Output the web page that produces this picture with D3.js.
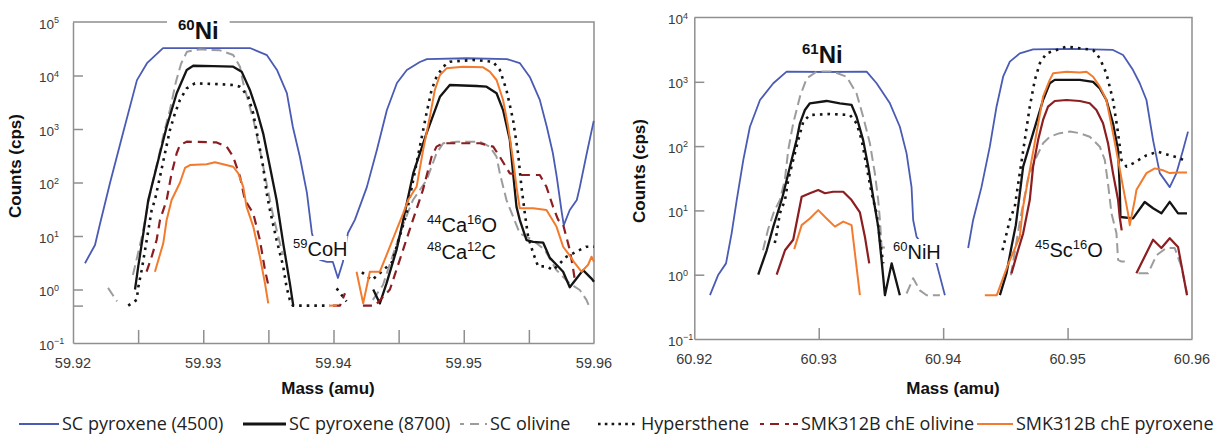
<!DOCTYPE html>
<html>
<head>
<meta charset="utf-8">
<script src="https://cdn.jsdelivr.net/npm/d3@7"></script>
<style>
  html, body { margin: 0; padding: 0; background: #fff; }
  svg { display: block; }
</style>
</head>
<body>
<svg id="chart" width="1214" height="434"></svg>
<script>
// ---- Series (legend order) ----
const seriesNames = ["SC pyroxene (4500)", "SC pyroxene (8700)", "SC olivine",
                     "Hypersthene", "SMK312B chE olivine", "SMK312B chE pyroxene"];

// ---- Axis ticks ----
const massLabels60 = [59.92, 59.93, 59.94, 59.95, 59.96];
const massTicks60  = [59.925, 59.93, 59.935, 59.94, 59.945, 59.95, 59.955];
const massLabels61 = [60.92, 60.93, 60.94, 60.95, 60.96];
const massTicks61  = [60.93, 60.94, 60.95];
const countExp60   = [5, 4, 3, 2, 1, 0, -1];
const countTicks60 = [1e4, 1e3, 1e2, 1e1, 1, 0.5];
const countExp61   = [4, 3, 2, 1, 0, -1];
const countTicks61 = [1e3, 1e2, 1e1, 1];

// ---- 60Ni scan: each series = list of continuous segments of [mass (amu), counts (cps)] ----
const ni60_sc4500 = [
  [[59.92092,3.1],[59.92169,6.8],[59.92207,16.8],[59.92284,98],[59.92384,840],[59.92491,8200],[59.92568,17000],[59.92691,32600],[59.92975,32600],[59.93358,32600],[59.93489,24000],[59.93566,12700],[59.93642,4700],[59.93688,1090],[59.93742,300],[59.93796,64],[59.93834,11.4],[59.93865,6],[59.93896,3.56],[59.93949,3.27],[59.93995,3.27],[59.94034,1.64],[59.94072,3.27],[59.94111,11.4],[59.94164,20],[59.94256,82],[59.94333,405],[59.9441,2260],[59.94487,7240],[59.94563,12700],[59.94663,17900],[59.94717,20300],[59.95024,21000],[59.95331,20300],[59.9543,17100],[59.95507,9400],[59.95584,3500],[59.95638,1090],[59.95684,356],[59.95714,127],[59.95753,27],[59.95768,16],[59.95814,30.6],[59.95868,47],[59.95891,82],[59.95945,356],[59.95998,1420]]
];
const ni60_sc8700 = [
  [[59.92476,1.0],[59.92501,2.7],[59.9254,11.2],[59.92578,47],[59.92642,197],[59.92719,1100],[59.92796,4650],[59.92873,12700],[59.92923,15200],[59.93074,15000],[59.9323,14600],[59.93295,11800],[59.93358,5360],[59.9341,2260],[59.9346,830],[59.93512,197],[59.93563,47],[59.93614,7.3],[59.93665,1.3],[59.93691,0.5]],
  [[59.94305,1.0],[59.94356,0.55],[59.94407,1.3],[59.94484,5.5],[59.94535,20],[59.94612,148],[59.94714,830],[59.94817,4000],[59.94893,6640],[59.95098,6370],[59.95175,6180],[59.95252,4650],[59.95302,2260],[59.95354,620],[59.95379,148],[59.95405,35],[59.9543,20],[59.95482,8.4],[59.95533,7.8],[59.9561,7.5],[59.95661,3.9],[59.95712,2.9],[59.95763,2.15],[59.95814,1.1],[59.95866,1.6],[59.95916,2.3],[59.95981,1.6],[59.96,1.4]]
];
const ni60_olivine = [
  [[59.92269,1.07],[59.92338,0.6]],
  [[59.9246,1.87],[59.92491,3.9],[59.9253,10],[59.92568,30.6],[59.92606,90],[59.92652,263],[59.92698,840],[59.92744,2260],[59.9279,7570],[59.92829,16400],[59.92875,27900],[59.92975,30900],[59.93128,29500],[59.9323,24200],[59.93282,14600],[59.93307,7140],[59.93343,3480],[59.93389,1350],[59.93435,405],[59.93481,111],[59.93527,30.6],[59.93573,10.4],[59.93612,4.4]],
  [[59.94302,0.64],[59.94379,1.2],[59.94456,4.4],[59.94533,16],[59.9461,47],[59.94715,111],[59.94791,352],[59.94842,541],[59.94945,580],[59.95124,580],[59.952,468],[59.95252,302],[59.95277,148],[59.95328,47],[59.95379,23],[59.9543,11.2],[59.9553,8.4],[59.95622,5.5],[59.95712,2.3],[59.95814,1.3],[59.95891,0.98],[59.95942,0.64],[59.9596,0.5]]
];
const ni60_hypersthene = [
  [[59.92424,0.5],[59.92489,0.64],[59.92501,1.1],[59.92527,2.3],[59.92566,8.4],[59.92604,30.6],[59.92629,47],[59.92668,129],[59.92706,352],[59.92744,955],[59.92783,1960],[59.92821,3480],[59.92873,5750],[59.92936,7140],[59.9309,6940],[59.9323,6640],[59.93282,6180],[59.93345,4020],[59.93384,1960],[59.93422,622],[59.9346,197],[59.93487,63],[59.93512,30.6],[59.93563,8.4],[59.93614,2.7],[59.9364,1.1],[59.93665,0.64],[59.93688,0.5],[59.93972,0.5]],
  [[59.94024,1.05],[59.941,0.6]],
  [[59.94218,2.1],[59.94295,1.5],[59.94448,3.2],[59.94509,10],[59.94561,26.5],[59.94612,111],[59.94663,468],[59.94714,1960],[59.94753,5360],[59.94791,9500],[59.94842,14600],[59.94893,18100],[59.95072,19500],[59.95225,18100],[59.95277,12700],[59.95328,5360],[59.95379,1470],[59.95417,352],[59.95443,83],[59.95469,26.5],[59.95494,9.8],[59.95533,4.8],[59.95571,2.7],[59.95635,2.7],[59.95686,2.3],[59.95789,4.1],[59.95891,5.5],[59.95942,6.3],[59.96,6.3]]
];
const ni60_smkOlivine = [
  [[59.92565,2.15],[59.92604,4.1],[59.92642,8.4],[59.92668,20],[59.92719,47],[59.92757,148],[59.92796,352],[59.92821,502],[59.92873,580],[59.93103,560],[59.9318,468],[59.9323,302],[59.93282,129],[59.9332,47],[59.93384,26.5],[59.93435,8.4],[59.93474,2.3],[59.93499,1.23]],
  [[59.93995,0.5],[59.9405,0.5],[59.94088,0.85]],
  [[59.94226,0.5],[59.94318,0.5],[59.94433,1.0],[59.94509,3.6],[59.946,17],[59.94686,72],[59.94753,302],[59.94791,468],[59.94842,541],[59.95124,541],[59.95226,468],[59.95277,302],[59.95354,148],[59.9543,138],[59.95584,138],[59.95635,83],[59.95686,35],[59.95725,20],[59.95761,17],[59.95814,5.5],[59.95837,2.7],[59.95853,1.5]]
];
const ni60_smkPyroxene = [
  [[59.92629,2.15],[59.92693,7.3],[59.92719,20],[59.92757,47],[59.92821,99],[59.9286,187],[59.92898,212],[59.93026,220],[59.9309,239],[59.93153,220],[59.9323,197],[59.93269,148],[59.93307,83],[59.93333,35],[59.93384,15],[59.93435,4.1],[59.93474,1.3],[59.93499,0.55]],
  [[59.93972,0.5],[59.94026,0.5]],
  [[59.94177,2.15],[59.94228,0.55],[59.94279,2.15],[59.94356,2.15],[59.94433,6.3],[59.94484,13],[59.94535,26.5],[59.94573,47],[59.94638,83],[59.94688,405],[59.9474,1700],[59.94778,5360],[59.94817,10200],[59.94868,13600],[59.94995,14600],[59.95149,14200],[59.952,11800],[59.95252,8240],[59.95302,3480],[59.95341,1100],[59.95379,263],[59.95405,83],[59.9543,33],[59.95533,33],[59.95635,30.6],[59.95712,15],[59.95763,6.3],[59.95801,4.75],[59.95853,3.1],[59.95904,2.15],[59.95955,2.9],[59.95981,4.1],[59.96,3.3]]
];

// ---- 61Ni scan ----
const ni61_sc4500 = [
  [[60.92126,0.48],[60.92193,1.0],[60.92255,1.5],[60.923,4.4],[60.92341,14.5],[60.92394,61],[60.92447,200],[60.92528,521],[60.92635,949],[60.92742,1440],[60.93063,1420],[60.93385,1440],[60.93465,949],[60.93572,463],[60.93652,200],[60.93706,77],[60.93746,23],[60.93759,7.1],[60.93786,3.9],[60.93861,2.5],[60.93947,1.5],[60.94014,0.48]],
  [[60.94201,2.6],[60.94241,7.1],[60.94308,23],[60.94375,98],[60.94429,410],[60.94482,1200],[60.94536,2060],[60.94616,2770],[60.94723,3200],[60.95042,3240],[60.95365,3130],[60.95446,2610],[60.95526,1520],[60.9558,949],[60.95634,521],[60.95687,124],[60.95741,38],[60.95821,23],[60.95875,38],[60.95928,87],[60.95968,168]]
];
const ni61_sc8700 = [
  [[60.92514,1.0],[60.92582,2.4],[60.92635,5.6],[60.92702,14.5],[60.92715,18],[60.92769,48],[60.92822,124],[60.92849,226],[60.92889,364],[60.92929,463],[60.93063,503],[60.9317,463],[60.93264,436],[60.93304,286],[60.93357,124],[60.93398,48],[60.93438,16],[60.93478,5.6],[60.93505,1.7],[60.93532,0.48],[60.93586,1.5],[60.93652,0.48]],
  [[60.94456,0.48],[60.94509,1.05],[60.94552,2.9],[60.94584,5.9],[60.94643,48],[60.94723,159],[60.94803,521],[60.94857,949],[60.94897,1070],[60.95098,1070],[60.95205,1000],[60.95259,792],[60.95312,521],[60.95365,226],[60.95406,87],[60.95419,23],[60.95425,7.9],[60.95526,7.5],[60.9562,13.5],[60.95687,10.8],[60.95754,9],[60.95821,13.6],[60.95888,9],[60.9596,9]]
];
const ni61_olivine = [
  [[60.92552,2.4],[60.92592,5.0],[60.9264,9.5],[60.92688,14.5],[60.92728,30],[60.92755,87],[60.92795,226],[60.92849,586],[60.92903,1130],[60.92983,1440],[60.93116,1440],[60.93224,1200],[60.93304,660],[60.93357,286],[60.93411,111],[60.93451,38],[60.93478,14.5],[60.93492,7.1],[60.93505,2.7],[60.93545,2.6]],
  [[60.93706,0.51],[60.93759,0.88],[60.93813,0.57],[60.93867,0.48],[60.93974,0.48]],
  [[60.94544,0.98],[60.94616,6.6],[60.9468,30],[60.94696,38],[60.9475,68],[60.94803,111],[60.94857,140],[60.94937,159],[60.95018,168],[60.95098,159],[60.95178,140],[60.95259,98],[60.95299,61],[60.95325,26],[60.95353,9],[60.95393,4.4],[60.95406,1.7],[60.95433,1.6],[60.9546,1.6]],
  [[60.9557,1.05],[60.95647,1.05],[60.95714,2.0],[60.95794,2.6],[60.95861,2.6],[60.95915,1.33],[60.9596,0.51]]
];
const ni61_hypersthene = [
  [[60.92647,3.1],[60.92662,4.4],[60.92688,9],[60.92729,14.5],[60.92755,30],[60.92795,61],[60.92835,124],[60.92876,240],[60.92929,305],[60.9309,315],[60.93251,305],[60.93304,226],[60.93345,124],[60.93385,48],[60.93425,18.5],[60.93465,9],[60.93492,3.5],[60.93518,1.5]],
  [[60.94477,2.4],[60.94536,7.1],[60.94576,11.5],[60.94616,38],[60.94656,124],[60.94696,410],[60.94737,1070],[60.94777,1940],[60.9483,2770],[60.94991,3520],[60.95098,3330],[60.95205,3130],[60.95259,2320],[60.95312,1350],[60.95365,521],[60.95406,159],[60.95433,61],[60.95473,48],[60.95526,54],[60.95634,72],[60.95727,82],[60.95821,72],[60.95901,65],[60.95928,61]]
];
const ni61_smkOlivine = [
  [[60.92662,1.0],[60.92729,2.4],[60.92795,3.5],[60.92863,16.3],[60.92929,18.5],[60.92996,20.7],[60.9305,18.5],[60.93116,19.5],[60.93197,19.5],[60.93264,14.5],[60.93331,9.3],[60.93371,3.9],[60.93406,1.5]],
  [[60.94549,1.05],[60.94602,2.4],[60.94643,4.4],[60.94696,14.5],[60.94723,48],[60.94763,124],[60.94803,255],[60.94843,410],[60.94897,503],[60.94991,521],[60.95098,503],[60.95178,463],[60.95232,364],[60.95285,226],[60.95325,111],[60.95365,38],[60.95406,14.5],[60.95419,7.9],[60.95435,4.9]],
  [[60.95553,1.05],[60.95687,3.5],[60.95754,2.6],[60.95821,3.7],[60.95888,2.7],[60.9596,0.48]]
];
const ni61_smkPyroxene = [
  [[60.92803,2.5],[60.92863,5.9],[60.92929,7.5],[60.92996,10.1],[60.93063,7.5],[60.9313,5.6],[60.93197,6.7],[60.93264,5.9],[60.93331,0.48]],
  [[60.94335,0.48],[60.94431,0.48],[60.94519,1.4],[60.94616,3.9],[60.94643,11.5],[60.94696,42],[60.9475,159],[60.94803,586],[60.94857,1070],[60.94884,1355],[60.94991,1436],[60.95098,1390],[60.95152,1436],[60.95205,1200],[60.95259,840],[60.95312,521],[60.95365,159],[60.95406,61],[60.95446,23],[60.95486,9],[60.955,5.9],[60.9554,14.5],[60.95554,21],[60.95634,38],[60.95701,45],[60.95768,42],[60.95821,38],[60.95888,39],[60.9596,39]]
];

// ---- Styling ----
const FONT = "'Liberation Sans', Arial, Helvetica, sans-serif";
const AXIS_GREY = "#8f8f8f";
const styles = [
  { color: "#4a5bb4", width: 1.8, dash: null },
  { color: "#141414", width: 2.3, dash: null },
  { color: "#9c9c9c", width: 2.0, dash: "10,5" },
  { color: "#141414", width: 2.6, dash: "2.6,5" },
  { color: "#8c1d20", width: 2.2, dash: "9,6" },
  { color: "#f27b2d", width: 2.0, dash: null }
];
// drawing order (index into seriesNames): blue, grey, black, dotted, dark red, orange
const drawOrder = [0, 2, 1, 3, 4, 5];

const svg = d3.select("#chart");

// text with superscript parts: parts = [[text, isSup], ...]
function richText(g, x, y, parts, size, supSize, opts = {}) {
  const t = g.append("text")
    .attr("x", x).attr("y", y)
    .attr("font-family", opts.family || FONT)
    .attr("font-size", size)
    .attr("font-weight", opts.weight || "normal")
    .attr("fill", opts.fill || "#111")
    .attr("text-anchor", opts.anchor || "start");
  let raised = false;
  const lift = opts.lift != null ? opts.lift : size * 0.42;
  parts.forEach(([s, sup]) => {
    const ts = t.append("tspan").text(s);
    if (sup) {
      ts.attr("font-size", supSize).attr("dy", raised ? 0 : -lift);
      raised = true;
    } else {
      ts.attr("dy", raised ? lift : 0);
      raised = false;
    }
  });
  return t;
}

// white box behind a text; optional fixed vertical band
function backdrop(g, textSel, padX, band) {
  const b = textSel.node().getBBox();
  const y0 = band ? band[0] : b.y;
  const y1 = band ? band[1] : b.y + b.height;
  g.insert("rect", () => textSel.node())
    .attr("x", b.x - padX).attr("y", y0)
    .attr("width", b.width + 2 * padX).attr("height", y1 - y0)
    .attr("fill", "#fff");
}

function drawPanel(cfg) {
  const x = d3.scaleLinear().domain(cfg.xDomain).range(cfg.xRange);
  const y = d3.scaleLog().domain(cfg.yDomain).range(cfg.yRange);
  const g = svg.append("g");
  const [x0, x1] = cfg.xRange;
  const [yb, yt] = cfg.yRange;

  // frame: top and right edges
  g.append("path")
    .attr("d", `M${x0},${yt}H${x1}V${yb}`)
    .attr("fill", "none").attr("stroke", AXIS_GREY).attr("stroke-width", 1.5);

  // bottom axis with inward ticks
  const xAxis = g.append("g").attr("transform", `translate(0,${yb})`)
    .call(d3.axisBottom(x).tickValues(cfg.xTicks).tickSizeInner(-cfg.xTickLen).tickSizeOuter(0).tickFormat(""));
  // left axis with inward ticks
  const yAxis = g.append("g").attr("transform", `translate(${x0},0)`)
    .call(d3.axisLeft(y).tickValues(cfg.yTicks).tickSizeInner(-10).tickSizeOuter(0).tickFormat(""));
  [xAxis, yAxis].forEach(a => {
    a.select(".domain").attr("stroke", AXIS_GREY).attr("stroke-width", 1.5);
    a.selectAll(".tick line").attr("stroke", AXIS_GREY).attr("stroke-width", 1.5);
  });

  // x tick labels
  g.selectAll(".xlab").data(cfg.xLabels).join("text")
    .attr("x", d => x(d)).attr("y", yb + 25)
    .attr("text-anchor", "middle")
    .attr("font-family", FONT).attr("font-size", 14.5).attr("fill", "#3a3a3a")
    .text(d => d.toFixed(2));

  // y tick labels: powers of ten
  cfg.yExp.forEach(e => {
    richText(g, cfg.yLabelX, y(Math.pow(10, e)) + 6.5,
      [["10", false], [String(e).replace("-", "\u2212"), true]], 13.5, 9,
      { fill: "#3a3a3a", lift: 5.5 });
  });

  // axis titles
  g.append("text")
    .attr("transform", `translate(${cfg.yTitle[0]},${cfg.yTitle[1]}) rotate(-90)`)
    .attr("text-anchor", "middle").attr("font-family", FONT)
    .attr("font-size", 17).attr("font-weight", "bold").attr("fill", "#111")
    .text("Counts (cps)");
  g.append("text")
    .attr("x", cfg.xTitle[0]).attr("y", cfg.xTitle[1])
    .attr("text-anchor", "middle").attr("font-family", FONT)
    .attr("font-size", 17).attr("font-weight", "bold").attr("fill", "#111")
    .text("Mass (amu)");

  // spectra
  const line = d3.line().x(d => x(d[0])).y(d => y(d[1]));
  drawOrder.forEach(i => {
    const st = Object.assign({}, styles[i], (cfg.styleOverride || {})[i] || {});
    cfg.series[i].forEach(seg => {
      g.append("path").datum(seg)
        .attr("d", line)
        .attr("fill", "none")
        .attr("stroke", st.color)
        .attr("stroke-width", st.width)
        .attr("stroke-dasharray", st.dash)
        .attr("stroke-linejoin", "round");
    });
  });

  // peak annotations on white backing
  cfg.notes.forEach(n => {
    const t = richText(g, n.x, n.y, n.parts, 20, 13, { lift: 8 });
    backdrop(g, t, 0);
  });

  // title; where it sits on the frame, the frame line is broken around it
  const title = richText(g, cfg.title.x, cfg.title.y, cfg.title.parts, 24, 15,
    { weight: "bold", lift: 9 });
  if (cfg.title.onFrame) backdrop(g, title, 11, [yt - 4, yt + 4]);
}

drawPanel({
  xDomain: [59.92, 59.96], xRange: [73, 594],
  yDomain: [0.1, 1e5], yRange: [343, 22],
  xTicks: massTicks60, xTickLen: 13, xLabels: massLabels60,
  yTicks: countTicks60, yExp: countExp60, yLabelX: 39,
  yTitle: [21, 166], xTitle: [328, 394],
  series: [ni60_sc4500, ni60_sc8700, ni60_olivine, ni60_hypersthene, ni60_smkOlivine, ni60_smkPyroxene],
  notes: [
    { x: 293, y: 256, parts: [["59", true], ["CoH", false]] },
    { x: 427, y: 232, parts: [["44", true], ["Ca", false], ["16", true], ["O", false]] },
    { x: 427, y: 259, parts: [["48", true], ["Ca", false], ["12", true], ["C", false]] }
  ],
  title: { x: 178, y: 39, parts: [["60", true], ["Ni", false]], onFrame: true }
});

drawPanel({
  xDomain: [60.92, 60.96], xRange: [694.3, 1192],
  yDomain: [0.1, 1e4], yRange: [339, 17.5],
  xTicks: massTicks61, xTickLen: 11, xLabels: massLabels61,
  yTicks: countTicks61, yExp: countExp61, yLabelX: 668,
  yTitle: [645, 171], xTitle: [953, 394],
  series: [ni61_sc4500, ni61_sc8700, ni61_olivine, ni61_hypersthene, ni61_smkOlivine, ni61_smkPyroxene],
  styleOverride: { 4: { dash: null, width: 2.2 } },
  notes: [
    { x: 893, y: 259, parts: [["60", true], ["NiH", false]] },
    { x: 1035, y: 257, parts: [["45", true], ["Sc", false], ["16", true], ["O", false]] }
  ],
  title: { x: 802, y: 63, parts: [["61", true], ["Ni", false]], onFrame: false }
});

// ---- Legend ----
const legendSwatch = [[19, 59], [243, 286], [460, 487], [598, 638], [760, 798], [977, 1013]];
const legendDash = [null, null, "4,6,9,6,4", "2.6,4.2", "4,6,9,6,4", null];
const legend = svg.append("g");
seriesNames.forEach((name, i) => {
  const [a, b] = legendSwatch[i];
  legend.append("line")
    .attr("x1", a).attr("x2", b).attr("y1", 424).attr("y2", 424)
    .attr("stroke", styles[i].color)
    .attr("stroke-width", i === 1 ? 3 : styles[i].width)
    .attr("stroke-dasharray", legendDash[i]);
  legend.append("text")
    .attr("x", b + 3).attr("y", 429.5)
    .attr("font-family", "'Open Sans', 'Noto Sans', sans-serif")
    .attr("font-size", 18).attr("fill", "#222")
    .text(name);
});
</script>
</body>
</html>
